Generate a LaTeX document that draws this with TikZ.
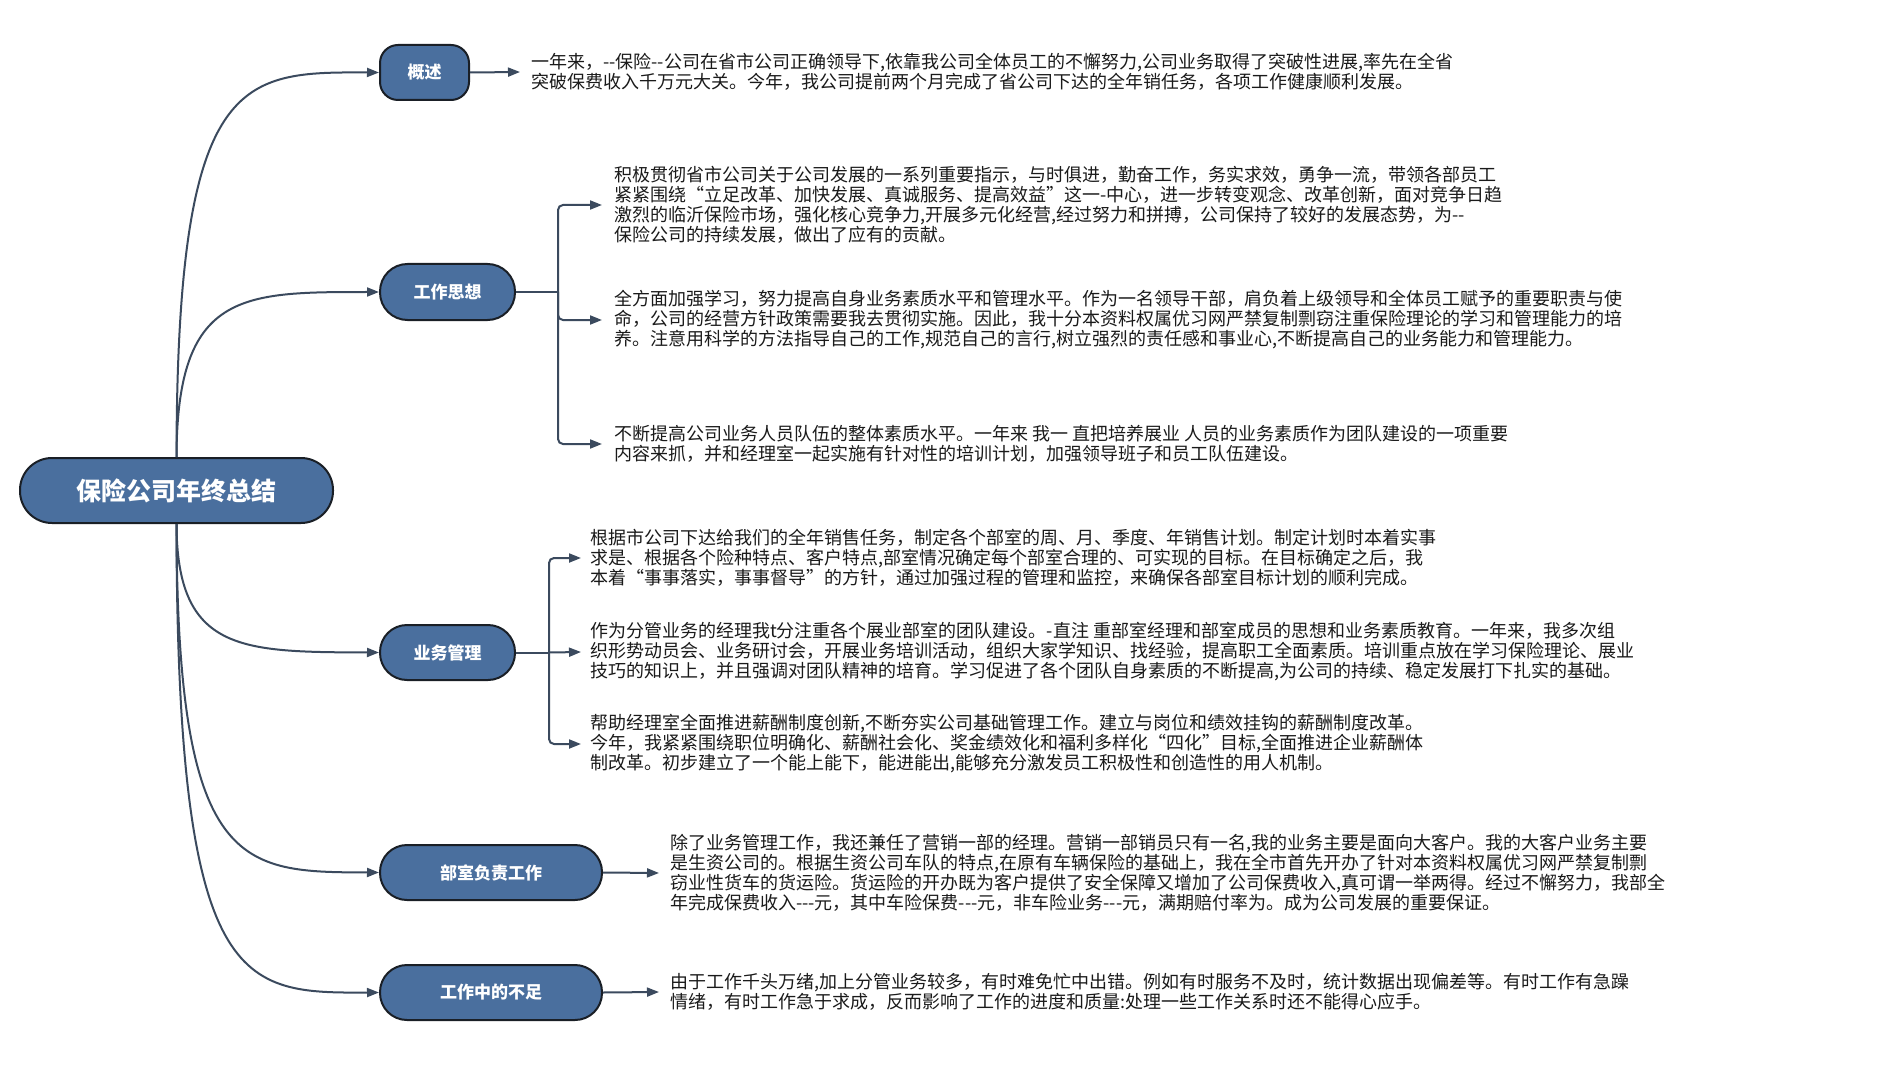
\documentclass[tikz,border=0pt]{standalone}
\usepackage{fontspec}
\setmainfont{Noto Sans CJK SC}
\usetikzlibrary{arrows.meta}
\definecolor{nodefill}{HTML}{4A6F9E}
\definecolor{nodeline}{HTML}{1A1F26}
\definecolor{connc}{HTML}{3B4A5E}
\definecolor{txtc}{HTML}{1A1A1A}
\tikzset{
  topic/.style={draw=nodeline, line width=2pt, fill=nodefill, text=white, inner sep=0pt,
    font=\fontsize{17pt}{20pt}\selectfont\bfseries},
  desc/.style={anchor=west, align=left, inner sep=0pt, text=txtc,
    font=\fontsize{18pt}{20pt}\selectfont},
  conn/.style={draw=connc, line width=2pt},
  arr/.style={conn, -{Triangle[length=12pt,width=9pt]}},
}
\begin{document}
\begin{tikzpicture}[x=1pt,y=-1pt]
\useasboundingbox (0,0) rectangle (1887,1091);
\fill[white] (0,0) rectangle (1887,1091);

% root
\node[topic, minimum width=313pt, minimum height=65pt, rounded corners=32pt,
  font=\fontsize{25pt}{28pt}\selectfont\bfseries] (root) at (176.5,490.5) {保险公司年终总结};

% topics
\node[topic, minimum width=89pt, minimum height=55pt, rounded corners=18pt] (gs) at (424.5,72.5) {概述};
\node[topic, minimum width=135pt, minimum height=56pt, rounded corners=27.5pt] (gz) at (447.5,292) {工作思想};
\node[topic, minimum width=135pt, minimum height=55pt, rounded corners=27pt] (yw) at (447.5,652.5) {业务管理};
\node[topic, minimum width=222pt, minimum height=55pt, rounded corners=27pt] (bs) at (491,872.5) {部室负责工作};
\node[topic, minimum width=222pt, minimum height=55pt, rounded corners=27pt] (bz) at (491,992.5) {工作中的不足};

% curves from root
\draw[arr] (root.north) .. controls (177,72) and (241,72) .. (gs.west);
\draw[arr] (root.north) .. controls (177,292) and (241,292) .. (gz.west);
\draw[arr] (root.south) .. controls (177,652) and (241,652) .. (yw.west);
\draw[arr] (root.south) .. controls (177,872) and (241,872) .. (bs.west);
\draw[arr] (root.south) .. controls (177,993) and (241,993) .. (bz.west);

% texts
\node[desc] (t0) at (531,72) {一年来，-{}-保险-{}-公司在省市公司正确领导下,依靠我公司全体员工的不懈努力,公司业务取得了突破性进展,率先在全省\\突破保费收入千万元大关。今年，我公司提前两个月完成了省公司下达的全年销任务，各项工作健康顺利发展。};

\node[desc] (g1) at (614,205) {积极贯彻省市公司关于公司发展的一系列重要指示，与时俱进，勤奋工作，务实求效，勇争一流，带领各部员工\\紧紧围绕“立足改革、加快发展、真诚服务、提高效益"这一-中心，进一步转变观念、改革创新，面对竞争日趋\\激烈的临沂保险市场，强化核心竞争力,开展多元化经营,经过努力和拼搏，公司保持了较好的发展态势，为-{}-\\保险公司的持续发展，做出了应有的贡献。};
\node[desc] (g2) at (614,320) {全方面加强学习，努力提高自身业务素质水平和管理水平。作为一名领导干部，肩负着上级领导和全体员工赋予的重要职责与使\\命，公司的经营方针政策需要我去贯彻实施。因此，我十分本资料权属优习网严禁复制剽窃注重保险理论的学习和管理能力的培\\养。注意用科学的方法指导自己的工作,规范自己的言行,树立强烈的责任感和事业心,不断提高自己的业务能力和管理能力。};
\node[desc] (g3) at (614,444) {不断提高公司业务人员队伍的整体素质水平。一年来 我一 直把培养展业 人员的业务素质作为团队建设的一项重要\\内容来抓，并和经理室一起实施有针对性的培训计划，加强领导班子和员工队伍建设。};

\node[desc] (y1) at (590,558) {根据市公司下达给我们的全年销售任务，制定各个部室的周、月、季度、年销售计划。制定计划时本着实事\\求是、根据各个险种特点、客户特点,部室情况确定每个部室合理的、可实现的目标。在目标确定之后，我\\本着“事事落实，事事督导”的方针，通过加强过程的管理和监控，来确保各部室目标计划的顺利完成。};
\node[desc] (y2) at (590,652) {作为分管业务的经理我t分注重各个展业部室的团队建设。-直注 重部室经理和部室成员的思想和业务素质教育。一年来，我多次组\\织形势动员会、业务研讨会，开展业务培训活动，组织大家学知识、找经验，提高职工全面素质。培训重点放在学习保险理论、展业\\技巧的知识上，并且强调对团队精神的培育。学习促进了各个团队自身素质的不断提高,为公司的持续、稳定发展打下扎实的基础。};
\node[desc] (y3) at (590,744) {帮助经理室全面推进薪酬制度创新,不断夯实公司基础管理工作。建立与岗位和绩效挂钩的薪酬制度改革。\\今年，我紧紧围绕职位明确化、薪酬社会化、奖金绩效化和福利多样化“四化”目标,全面推进企业薪酬体\\制改革。初步建立了一个能上能下，能进能出,能够充分激发员工积极性和创造性的用人机制。};

\node[desc] (b1) at (670,873) {除了业务管理工作，我还兼任了营销一部的经理。营销一部销员只有一名,我的业务主要是面向大客户。我的大客户业务主要\\是生资公司的。根据生资公司车队的特点,在原有车辆保险的基础上，我在全市首先开办了针对本资料权属优习网严禁复制剽\\窃业性货车的货运险。货运险的开办既为客户提供了安全保障又增加了公司保费收入,真可谓一举两得。经过不懈努力，我部全\\年完成保费收入-{}-{}-元，其中车险保费-{}-{}-元，非车险业务-{}-{}-元，满期赔付率为。成为公司发展的重要保证。};
\node[desc] (z1) at (670,992) {由于工作千头万绪,加上分管业务较多，有时难免忙中出错。例如有时服务不及时，统计数据出现偏差等。有时工作有急躁\\情绪，有时工作急于求成，反而影响了工作的进度和质量:处理一些工作关系时还不能得心应手。};

% connectors to texts
\draw[arr] (gs.east) -- ([xshift=-11pt]t0.west);

\draw[conn] (gz.east) -- ++(42,0) coordinate (gzb);
\draw[arr, rounded corners=5pt] (gzb) |- ([xshift=-12pt]g1.west);
\draw[arr, rounded corners=5pt] (gzb) |- ([xshift=-12pt]g2.west);
\draw[arr, rounded corners=5pt] (gzb) |- ([xshift=-12pt]g3.west);

\draw[conn] (yw.east) -- ++(33,0) coordinate (ywb);
\draw[arr, rounded corners=5pt] (ywb) |- ([xshift=-9pt]y1.west);
\draw[arr] (ywb) -- ([xshift=-9pt]y2.west);
\draw[arr, rounded corners=5pt] (ywb) |- ([xshift=-9pt]y3.west);

\draw[arr] (bs.east) -- ([xshift=-11pt]b1.west);
\draw[arr] (bz.east) -- ([xshift=-11pt]z1.west);
\end{tikzpicture}
\end{document}
